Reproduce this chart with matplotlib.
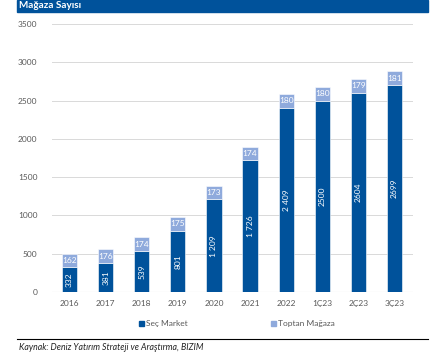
import numpy as np
import matplotlib.pyplot as plt
from matplotlib.patches import Rectangle
from matplotlib.lines import Line2D

periods = ["2016", "2017", "2018", "2019", "2020", "2021", "2022", "1Ç23", "2Ç23", "3Ç23"]
sec_market = [332, 381, 539, 801, 1209, 1726, 2409, 2500, 2604, 2699]
toptan = [162, 176, 174, 175, 173, 174, 180, 180, 179, 181]
sec_labels = ["332", "381", "539", "801", "1 209", "1 726", "2 409", "2500", "2604", "2699"]

dark = "#00529B"
light = "#8FAADC"
grey = "#595959"

plt.rcParams["font.family"] = ["Lato", "DejaVu Sans"]

fig = plt.figure(figsize=(4.44, 3.63), dpi=100)
ax = fig.add_axes([51.5 / 444, 1 - 292 / 363, 361 / 444, 268 / 363])

x = np.arange(len(periods))
w = 0.42
ax.bar(x, sec_market, w, color=dark, edgecolor="white", linewidth=0.4, zorder=3)
ax.bar(x, toptan, w, bottom=sec_market, color=light, edgecolor="white", linewidth=0.4, zorder=3)

for i in range(len(periods)):
    ax.text(x[i], sec_market[i] / 2, sec_labels[i], rotation=90, ha="center", va="center",
            color="white", fontsize=6, zorder=4)
    ax.text(x[i], sec_market[i] + toptan[i] / 2, str(toptan[i]), ha="center", va="center",
            color="white", fontsize=6, zorder=4)

ax.set_xlim(-0.5, len(periods) - 0.5)
ax.set_ylim(0, 3500)
ax.set_yticks(np.arange(0, 3501, 500))
ax.set_xticks(x)
ax.set_xticklabels(periods)
ax.tick_params(axis="both", length=0, labelsize=6, colors=grey)
ax.tick_params(axis="y", pad=10)
ax.tick_params(axis="x", pad=6)
ax.grid(axis="y", color="#D9D9D9", linewidth=0.7, zorder=0)
for s in ax.spines.values():
    s.set_visible(False)
ax.axhline(0, color="#D9D9D9", linewidth=0.8, zorder=1)

# header bar
fig.add_artist(Rectangle((17 / 444, 1 - 12 / 363), 411 / 444, 12 / 363,
                         transform=fig.transFigure, color="#00529B", zorder=0))
fig.text(19 / 444, 1 - 6 / 363, "Mağaza Sayısı", color="white", fontsize=7.2,
         fontweight="bold", va="center", ha="left")

# legend
for lx, name, c in [(139, "Seç Market", dark), (271, "Toptan Mağaza", light)]:
    fig.add_artist(Rectangle((lx / 444, 1 - 326 / 363), 5 / 444, 5 / 363,
                             transform=fig.transFigure, color=c))
    fig.text((lx + 7) / 444, 1 - 323.5 / 363, name, fontsize=6, color=grey,
             va="center", ha="left")

# source line
fig.add_artist(Line2D([17 / 444, 428 / 444], [1 - 339 / 363, 1 - 339 / 363],
                      transform=fig.transFigure, color="black", linewidth=0.8))
fig.text(19 / 444, 1 - 347 / 363, "Kaynak: Deniz Yatırım Strateji ve Araştırma, BIZIM",
         fontsize=6.3, style="italic", color="#222222", va="center", ha="left")

fig.savefig("out.png", dpi=100)
